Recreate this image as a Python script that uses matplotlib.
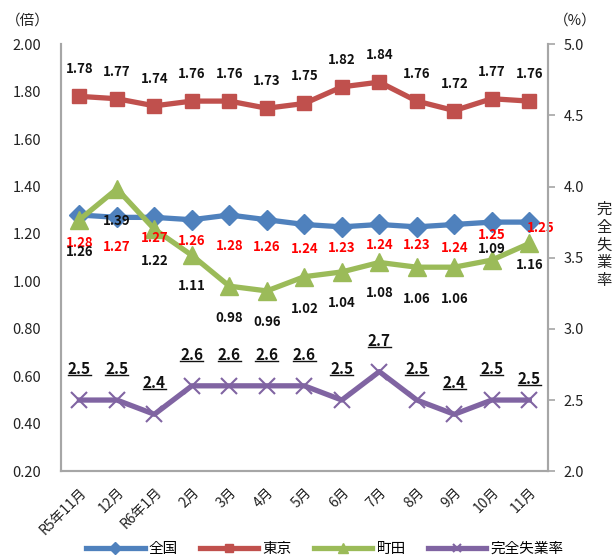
import matplotlib.pyplot as plt
import numpy as np
from matplotlib.lines import Line2D

plt.rcParams['font.family'] = ['Noto Sans CJK JP', 'DejaVu Sans']

# データ
months = ['R5年11月', '12月', 'R6年1月', '2月', '3月', '4月', '5月',
          '6月', '7月', '8月', '9月', '10月', '11月']
zenkoku = [1.28, 1.27, 1.27, 1.26, 1.28, 1.26, 1.24, 1.23, 1.24, 1.23, 1.24, 1.25, 1.25]
tokyo = [1.78, 1.77, 1.74, 1.76, 1.76, 1.73, 1.75, 1.82, 1.84, 1.76, 1.72, 1.77, 1.76]
machida = [1.26, 1.39, 1.22, 1.11, 0.98, 0.96, 1.02, 1.04, 1.08, 1.06, 1.06, 1.09, 1.16]
shitsugyo = [2.5, 2.5, 2.4, 2.6, 2.6, 2.6, 2.6, 2.5, 2.7, 2.5, 2.4, 2.5, 2.5]

# ラベルのずらし (pixel, 下向きが正)
off_zenkoku = [28, 30, 21, 21, 31, 27, 25, 21, 21, 18, 24, 13, 6]
off_machida = [32, 32, 32, 31, 32, 31, 32, 31, 31, 32, 32, -11, 22]
off_shitsugyo = [-31, -31, -31, -31, -31, -31, -31, -31, -31, -31, -31, -31, -21]

c_blue = '#4F81BD'
c_red = '#C0504D'
c_green = '#9BBB59'
c_purple = '#8064A2'
c_axis = '#A6A6A6'

fig = plt.figure(figsize=(6.13, 5.59), dpi=100)
ax = fig.add_axes([0.099, 0.157, 0.795, 0.764])
ax2 = ax.twinx()

x = np.arange(len(months))

ax.plot(x, zenkoku, color=c_blue, lw=3.8, marker='D', ms=10, zorder=3)
ax.plot(x, tokyo, color=c_red, lw=3.8, marker='s', ms=10, zorder=3)
ax.plot(x, machida, color=c_green, lw=3.8, marker='^', ms=13, zorder=3)
ax2.plot(x, shitsugyo, color=c_purple, lw=3.8, marker='x', ms=11, mew=1.5, zorder=3)

ax.set_xlim(-0.5, len(months) - 0.5)
ax.set_ylim(0.2, 2.0)
ax.set_yticks(np.arange(0.2, 2.01, 0.2))
ax.set_yticklabels([f'{v:.2f}' for v in np.arange(0.2, 2.01, 0.2)])
ax2.set_ylim(2.0, 5.0)
ax2.set_yticks(np.arange(2.0, 5.01, 0.5))
ax2.set_yticklabels([f'{v:.1f}' for v in np.arange(2.0, 5.01, 0.5)])

ax.set_xticks(x)
ax.set_xticklabels(months, rotation=45, ha='right', rotation_mode='anchor')
ax.tick_params(axis='x', length=0, pad=10, labelsize=10, colors='#222222')
ax.tick_params(axis='y', length=0, pad=14, labelsize=10.5, colors='#222222')
ax2.tick_params(axis='y', length=5, width=1.2, color=c_axis, pad=6, labelsize=10.5, labelcolor='#222222')

for a in (ax, ax2):
    a.spines['top'].set_visible(False)
    for s in ('left', 'right', 'bottom'):
        a.spines[s].set_color(c_axis)
        a.spines[s].set_linewidth(1.5)

# データラベル
for i in range(len(months)):
    ax.annotate(f'{tokyo[i]:.2f}', (x[i], tokyo[i]), xytext=(0, 27), textcoords='offset pixels',
                ha='center', va='center', fontsize=9.5, fontweight='bold', color='#111111')
    ax.annotate(f'{zenkoku[i]:.2f}', (x[i], zenkoku[i]), xytext=(11 if i == 12 else 0, -off_zenkoku[i]),
                textcoords='offset pixels', ha='center', va='center', fontsize=9.5,
                fontweight='bold', color='#FF0000', zorder=5)
    ax.annotate(f'{machida[i]:.2f}', (x[i], machida[i]), xytext=(0, -off_machida[i]),
                textcoords='offset pixels', ha='center', va='center', fontsize=9.5,
                fontweight='bold', color='#111111', zorder=5)

sh_texts = []
for i in range(len(months)):
    t = ax2.annotate(f'{shitsugyo[i]:.1f}', (x[i], shitsugyo[i]), xytext=(0, -off_shitsugyo[i]),
                     textcoords='offset pixels', ha='center', va='center', fontsize=11,
                     fontweight='bold', color='#111111')
    sh_texts.append(t)

# 下線
fig.canvas.draw()
r = fig.canvas.get_renderer()
for t in sh_texts:
    bb = t.get_window_extent(r)
    y0 = bb.y0 + 2
    fig.add_artist(Line2D([bb.x0 / 613, bb.x1 / 613], [y0 / 559, y0 / 559],
                          transform=fig.transFigure, color='#111111', lw=1.0))

fig.text(28 / 613, 1 - 21 / 559, '（倍）', ha='center', va='center', fontsize=10.5, color='#222222')
fig.text(575 / 613, 1 - 21 / 559, '（%）', ha='center', va='center', fontsize=10.5, color='#222222')
fig.text(604 / 613, 1 - 245 / 559, '\n'.join('完全失業率'), ha='center', va='center',
         fontsize=11, color='#222222', linespacing=1.05)

handles = [
    Line2D([], [], color=c_blue, lw=3.8, marker='D', ms=6),
    Line2D([], [], color=c_red, lw=3.8, marker='s', ms=6),
    Line2D([], [], color=c_green, lw=3.8, marker='^', ms=7),
    Line2D([], [], color=c_purple, lw=3.8, marker='x', ms=6, mew=1.5),
]
fig.legend(handles, ['全国', '東京', '町田', '完全失業率'], loc='center', ncol=4,
           bbox_to_anchor=(0.53, 0.018), frameon=False, fontsize=10.5,
           handlelength=4, handletextpad=0.3, columnspacing=1.5, borderpad=0)

fig.savefig('out.png', dpi=100)
